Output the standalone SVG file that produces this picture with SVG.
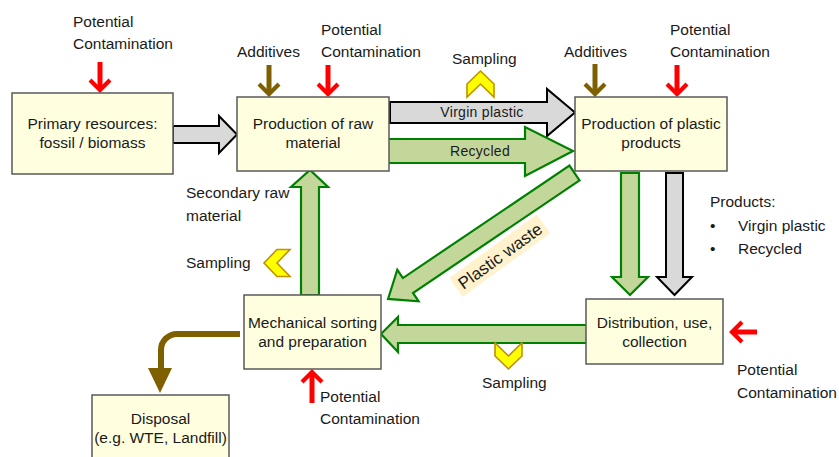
<svg xmlns="http://www.w3.org/2000/svg" xmlns:xlink="http://www.w3.org/1999/xlink" width="839" height="457" viewBox="0 0 839 457">
<style>
text{font-family:"Liberation Sans",Arial,sans-serif;font-size:15.5px;fill:#1a1a1a}
.box{fill:#FFFFE0;stroke:#595959;stroke-width:1.5}
.c{text-anchor:middle}
.gray{fill:#D9D9D9;stroke:#000;stroke-width:2;stroke-linejoin:miter}
.green{fill:#C4D79B;stroke:#008000;stroke-width:2.2;stroke-linejoin:miter}
.samp{fill:#FFFF00;stroke:#BF9000;stroke-width:1.6;stroke-linejoin:miter}
.lbl{font-size:14px;letter-spacing:0.3px}
.redS{stroke:#FF0000;stroke-width:5}
.brnS{stroke:#7F6000;stroke-width:5}
</style>
<defs>
<path id="head" d="M0,0 L-11.5,-11.5 L-8.5,-14.5 L0,-6 L8.5,-14.5 L11.5,-11.5 Z"/>
<path id="chev" d="M-13.5,13 L-13.5,0 L0,-13 L13.5,0 L13.5,13 L0,0 Z"/>
</defs>
<g id="connectors">
<path id="a-primary-raw" class="gray" d="M173,126 L219,126 L219,116 L237,134.5 L219,153 L219,143 L173,143 Z"/>
<path id="a-virgin" class="gray" d="M390,102 L547,102 L547,89 L575,112.5 L547,136 L547,123 L390,123 Z"/>
<path id="a-recycled" class="green" d="M387,139 L525,139 L525,127 L573,151 L525,176 L525,163 L387,163 Z"/>
<path id="a-secondary" class="green" d="M301,295 L301,187 L291,187 L310,170 L328,187 L319,187 L319,295 Z"/>
<path id="a-waste" class="green" transform="translate(574.5,173) rotate(145.96)" d="M0,-9 L201,-9 L201,-19 L225,0 L201,19 L201,9 L0,9 Z"/>
<path id="a-prod-green" class="green" d="M621,173 L639,173 L639,277 L648,277 L630,295 L612,277 L621,277 Z"/>
<path id="a-prod-gray" class="gray" d="M666,173 L683,173 L683,277 L692,277 L674.5,295 L657,277 L666,277 Z"/>
<path id="a-collect" class="green" d="M587,325 L398,325 L398,317 L381,334 L398,352 L398,343 L587,343 Z"/>
<g id="a-disposal">
<path d="M240,334 L177,334 A16,16 0 0 0 161,350 L161,370" fill="none" stroke="#7F6000" stroke-width="6"/>
<path d="M148,368 L172,368 L160,393 Z" fill="#7F6000"/>
</g>
<g id="contam-arrows" fill="#FF0000">
<line class="redS" x1="100" y1="62" x2="100" y2="88"/><use xlink:href="#head" transform="translate(100,93)"/>
<line class="redS" x1="328" y1="65" x2="328" y2="92"/><use xlink:href="#head" transform="translate(328,97)"/>
<line class="redS" x1="677" y1="65" x2="677" y2="92"/><use xlink:href="#head" transform="translate(677,97)"/>
<line class="redS" x1="757" y1="332" x2="734" y2="332"/><use xlink:href="#head" transform="translate(729,332) rotate(90)"/>
<line class="redS" x1="312" y1="403" x2="312" y2="374"/><use xlink:href="#head" transform="translate(312,369) rotate(180)"/>
</g>
<g id="additive-arrows" fill="#7F6000">
<line class="brnS" x1="269" y1="65" x2="269" y2="92"/><use xlink:href="#head" transform="translate(269,97)"/>
<line class="brnS" x1="595" y1="64" x2="595" y2="92"/><use xlink:href="#head" transform="translate(595,97)"/>
</g>
</g>
<g id="arrow-labels">
<text class="c lbl" x="482" y="117">Virgin plastic</text>
<text class="c lbl" x="480" y="156">Recycled</text>
<g id="waste-label" transform="translate(500,256) rotate(-36)">
<rect x="-54" y="-12" width="108" height="23" fill="#FFF2CC"/>
<text class="c" x="0" y="6" style="font-size:17px">Plastic waste</text>
</g>
</g>
<g id="sampling">
<use class="samp" xlink:href="#chev" transform="translate(480.5,84)"/>
<use class="samp" xlink:href="#chev" transform="translate(277,263) rotate(-90)"/>
<use class="samp" xlink:href="#chev" transform="translate(508.5,356) rotate(180)"/>
<text x="452" y="64">Sampling</text>
<text x="186" y="268">Sampling</text>
<text x="482" y="388">Sampling</text>
</g>
<g id="annotations">
<text x="73" y="26.5">Potential</text><text x="73" y="49">Contamination</text>
<text x="237" y="57">Additives</text>
<text x="321" y="35">Potential</text><text x="321" y="57">Contamination</text>
<text x="564" y="57">Additives</text>
<text x="670" y="35">Potential</text><text x="670" y="57">Contamination</text>
<text x="186" y="198">Secondary raw</text><text x="186" y="221">material</text>
<text x="710" y="207">Products:</text>
<text x="710" y="231">•</text><text x="738" y="231">Virgin plastic</text>
<text x="710" y="254">•</text><text x="738" y="254">Recycled</text>
<text x="737" y="375">Potential</text><text x="737" y="398">Contamination</text>
<text x="320" y="402">Potential</text><text x="320" y="424">Contamination</text>
</g>
<g id="primary">
<rect class="box" x="12" y="93" width="161" height="81"/>
<text class="c" x="92.5" y="129">Primary resources:</text>
<text class="c" x="92.5" y="148">fossil / biomass</text>
</g>
<g id="raw">
<rect class="box" x="237" y="97" width="152" height="74"/>
<text class="c" x="313" y="129">Production of raw</text>
<text class="c" x="313" y="148">material</text>
</g>
<g id="plastic">
<rect class="box" x="575" y="97" width="152" height="74"/>
<text class="c" x="651" y="129">Production of plastic</text>
<text class="c" x="651" y="148">products</text>
</g>
<g id="distribution">
<rect class="box" x="586" y="299" width="137" height="65"/>
<text class="c" x="654.5" y="328">Distribution, use,</text>
<text class="c" x="654.5" y="347">collection</text>
</g>
<g id="mechanical">
<rect class="box" x="244" y="295" width="137" height="74"/>
<text class="c" x="312.5" y="328">Mechanical sorting</text>
<text class="c" x="312.5" y="347">and preparation</text>
</g>
<g id="disposal">
<rect class="box" x="92" y="395" width="137" height="70"/>
<text class="c" x="160.5" y="424">Disposal</text>
<text class="c" x="160.5" y="443">(e.g. WTE, Landfill)</text>
</g>
</svg>
